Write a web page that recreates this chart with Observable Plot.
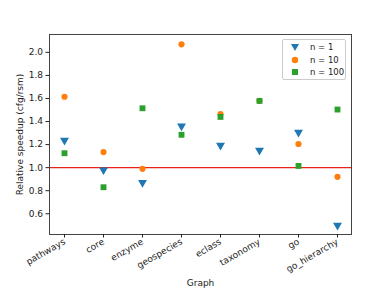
<!DOCTYPE html>
<html><head><meta charset="utf-8">
<script src="https://cdn.jsdelivr.net/npm/d3@7"></script>
<script src="https://cdn.jsdelivr.net/npm/@observablehq/plot@0.6"></script>
<style>
body{margin:0;background:#fff;font-family:"DejaVu Sans",sans-serif;}
#wrap{position:relative;width:390px;height:293px;}
#legend{position:absolute;left:282px;top:39px;width:64px;height:41px;border:1px solid #ccc;border-radius:2px;background:rgba(255,255,255,0.8);font-size:8.5px;color:#222;box-sizing:border-box;}
#legend .row{position:absolute;left:6px;height:12px;display:flex;align-items:center;white-space:nowrap;}
#legend svg{margin-right:9px;}
</style></head><body>
<div id="wrap"><div id="chart"></div><div id="legend"></div></div>
<script>
const graphs = ["pathways","core","enzyme","geospecies","eclass","taxonomy","go","go_hierarchy"];
const n1   = [1.237, 0.98, 0.87, 1.36, 1.194, 1.15, 1.307, 0.50];
const n10  = [1.615, 1.135, 0.99, 2.07, 1.465, 1.58, 1.205, 0.92];
const n100 = [1.125, 0.83, 1.515, 1.285, 1.44, 1.579, 1.015, 1.504];
const series = ["n = 1","n = 10","n = 100"];
const colors = ["#1f77b4","#ff7f0e","#2ca02c"];
const yTicks = [0.6,0.8,1.0,1.2,1.4,1.6,1.8,2.0];

const rows = (vals) => graphs.map((g,i)=>({graph:g, value:vals[i]}));

const chart = Plot.plot({
  width:390, height:293,
  marginLeft:49, marginRight:39, marginTop:34, marginBottom:59,
  style:{fontFamily:"DejaVu Sans, sans-serif", fontSize:"9px", color:"#222", background:"#fff"},
  x:{type:"point", domain:graphs, padding:0.35, label:null},
  y:{domain:[0.42,2.155], label:null},
  marks:[
    Plot.ruleY([1.0], {stroke:"#e8211b", strokeWidth:1.3}),
    Plot.dot(rows(n1), {x:"graph", y:"value", symbol:"triangle", rotate:180, r:3.3, fill:colors[0], stroke:"none"}),
    Plot.dot(rows(n10), {x:"graph", y:"value", symbol:"circle", r:3.1, fill:colors[1], stroke:"none"}),
    Plot.dot(rows(n100), {x:"graph", y:"value", symbol:"square", r:3.3, fill:colors[2], stroke:"none"}),
    Plot.frame({stroke:"#444", strokeWidth:1}),
    Plot.axisY({ticks:yTicks, tickFormat:d=>d.toFixed(1), tickSize:3.5, tickPadding:3, label:null}),
    Plot.axisX({tickSize:3.5, tickRotate:-30, tickPadding:3, label:null}),
    Plot.text(["Graph"], {frameAnchor:"bottom", dy:51, fontSize:9}),
    Plot.text(["Relative speedup (cfg/rsm)"], {frameAnchor:"left", textAnchor:"middle", dx:-29, rotate:-90, fontSize:9})
  ]
});
document.getElementById("chart").appendChild(chart);

const leg = document.getElementById("legend");
const shapes = [
  '<path d="M-4,-3 L4,-3 L0,4 Z" fill="'+colors[0]+'"/>',
  '<circle r="3.2" fill="'+colors[1]+'"/>',
  '<rect x="-3" y="-3" width="6" height="6" fill="'+colors[2]+'"/>'
];
series.forEach((s,i)=>{
  const d=document.createElement("div");
  d.className="row"; d.style.top=(1+i*12.5)+"px";
  d.innerHTML='<svg width="12" height="10" viewBox="-6 -5 12 10">'+shapes[i]+'</svg><span>'+s+'</span>';
  leg.appendChild(d);
});
</script>
</body></html>
